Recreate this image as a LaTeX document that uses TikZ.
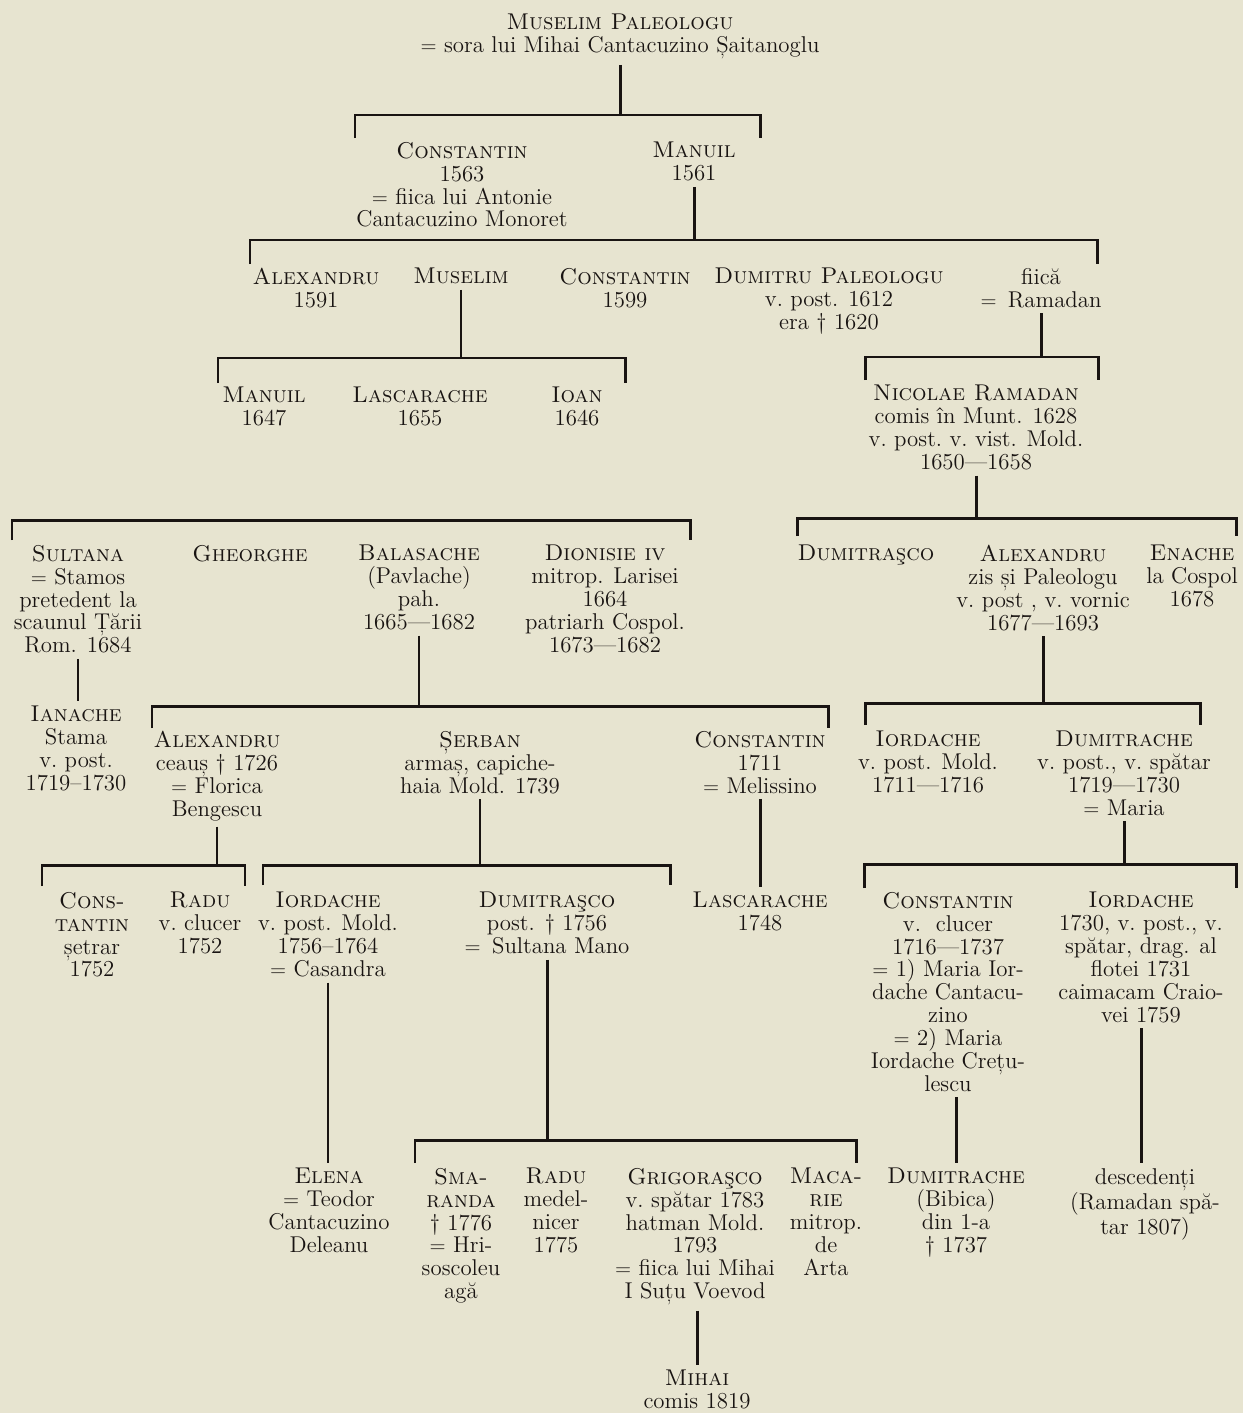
\documentclass[tikz,border=0pt]{standalone}
\usepackage{fontspec}

\definecolor{paper}{RGB}{231,228,208}
\definecolor{ink}{RGB}{25,20,18}

% bracket over a row of children: name, left x, right x, y, tick length
\newcommand{\kinbar}[5]{\coordinate (#1) at (#2,#4);
  \draw[kin] (#2,#4+#5) -- (#1) -- (#3,#4) -- (#3,#4+#5);}

\begin{document}
\begin{tikzpicture}[x=0.02cm, y=-0.02cm,
    kin/.style={draw=ink, line width=1.7pt, line join=miter},
    person/.style={anchor=north, align=center, inner sep=0pt, text=ink,
      font=\fontsize{13}{13}\selectfont},
    down/.style={kin, shorten <=3pt},
    link/.style={kin, shorten <=3pt, shorten >=3pt}]

    \fill[paper] (0,0) rectangle (1243,1413);
    \useasboundingbox (0,0) rectangle (1243,1413);

    % Muselim Paleologu
    \node[person] (muselim) at (620,14) {\textsc{Muselim Paleologu}\\$=$ sora lui Mihai Cantacuzino Șaitanoglu};
    \kinbar{b0}{355}{760}{115}{23}
    \draw[down] (muselim.south) -- (muselim.south |- b0);

    \node[person] (constantin1) at (462,142) {\textsc{Constantin}\\1563\\$=$ fiica lui Antonie\\Cantacuzino Monoret};
    \node[person] (manuil1) at (694,142) {\textsc{Manuil}\\1561};

    % children of Manuil
    \kinbar{b1}{250}{1097}{240}{24}
    \draw[down] (manuil1.south) -- (manuil1.south |- b1);

    \node[person] (alexandru2) at (316,268) {\textsc{Alexandru}\\1591};
    \node[person] (muselim2) at (461,268) {\textsc{Muselim}};
    \node[person] (constantin2) at (625,268) {\textsc{Constantin}\\1599};
    \node[person] (dumitru2) at (829,268) {\textsc{Dumitru Paleologu}\\v.~post. 1612\\era † 1620};
    \node[person] (fiica2) at (1041,268) {fiică\\$=$\enspace Ramadan};

    % children of Muselim
    \kinbar{b2}{218}{625}{358}{25}
    \draw[down] (muselim2.south) -- (muselim2.south |- b2);
    \node[person] (manuil3) at (264,387) {\textsc{Manuil}\\1647};
    \node[person] (lascarache3) at (420,387) {\textsc{Lascarache}\\1655};
    \node[person] (ioan3) at (577,387) {\textsc{Ioan}\\1646};

    % Ramadan line
    \kinbar{b3}{865}{1098}{357}{23}
    \draw[down] (fiica2.south) -- (fiica2.south |- b3);
    \node[person] (nicolae3) at (976,385) {\textsc{Nicolae Ramadan}\\comis în Munt. 1628\\v.~post.\ v.~vist. Mold.\\1650—1658};

    % row without parent line
    \kinbar{b4}{12}{690}{520}{20}
    \node[person] (sultana4) at (78,545) {\textsc{Sultana}\\$=$ Stamos\\pretedent la\\scaunul Țării\\Rom. 1684};
    \node[person] (gheorghe4) at (250,545) {\textsc{Gheorghe}};
    \node[person] (balasache4) at (419,545) {\textsc{Balasache}\\(Pavlache)\\pah.\\1665—1682};
    \node[person] (dionisie4) at (605,545) {\textsc{Dionisie iv}\\mitrop. Larisei\\1664\\patriarh Cospol.\\1673—1682};

    % children of Nicolae Ramadan
    \kinbar{b5}{797}{1236}{518}{18}
    \draw[down] (nicolae3.south) -- (nicolae3.south |- b5);
    \node[person] (dumitrasco4) at (866,545) {\textsc{Dumitraşco}};
    \node[person] (alexandru4) at (1043,545) {\textsc{Alexandru}\\zis și Paleologu\\v.~post , v.~vornic\\1677—1693};
    \node[person] (enache4) at (1192,545) {\textsc{Enache}\\la Cospol\\1678};

    % Sultana -> Ianache
    \node[person] (ianache5) at (76,706) {\textsc{Ianache}\\Stama\\v.~post.\\1719–1730};
    \draw[link] (sultana4.south) -- (sultana4.south |- ianache5.north);

    % children of Balasache
    \kinbar{b6}{152}{828}{706}{22}
    \draw[down] (balasache4.south) -- (balasache4.south |- b6);
    \node[person] (alexandru5) at (217,731) {\textsc{Alexandru}\\ceauș † 1726\\$=$ Florica\\Bengescu};
    \node[person] (serban5) at (480,731) {\textsc{Șerban}\\armaș, capiche-\\haia Mold. 1739};
    \node[person] (constantin5) at (760,731) {\textsc{Constantin}\\1711\\$=$ Melissino};

    % children of Alexandru (Ramadan)
    \kinbar{b7}{865}{1200}{703}{22}
    \draw[down] (alexandru4.south) -- (alexandru4.south |- b7);
    \node[person] (iordache5) at (928,731) {\textsc{Iordache}\\v.~post. Mold.\\1711—1716};
    \node[person] (dumitrache5) at (1124,731) {\textsc{Dumitrache}\\v.~post., v.~spătar\\1719—1730\\$=$ Maria};

    % children of Alexandru
    \kinbar{b8}{42}{245}{865}{21}
    \draw[down] (alexandru5.south) -- (alexandru5.south |- b8);
    \node[person] (constantin6) at (92,892) {\textsc{Cons-}\\\textsc{tantin}\\șetrar\\1752};
    \node[person] (radu6) at (200,892) {\textsc{Radu}\\v.~clucer\\1752};

    % children of Serban
    \kinbar{b9}{263}{670}{865}{20}
    \draw[down] (serban5.south) -- (serban5.south |- b9);
    \node[person] (iordache6) at (328,892) {\textsc{Iordache}\\v.~post. Mold.\\1756–1764\\$=$ Casandra};
    \node[person] (dumitrasco6) at (547,892) {\textsc{Dumitraşco}\\post. † 1756\\$=$\enspace Sultana Mano};

    % Constantin -> Lascarache
    \node[person] (lascarache6) at (760,892) {\textsc{Lascarache}\\1748};
    \draw[link] (constantin5.south) -- (constantin5.south |- lascarache6.north);

    % children of Dumitrache
    \kinbar{b10}{864}{1236}{864}{24}
    \draw[down] (dumitrache5.south) -- (dumitrache5.south |- b10);
    \node[person] (constantin6b) at (948,892) {\textsc{Constantin}\\v.~~clucer\\1716—1737\\$=$ 1) Maria Ior-\\dache Cantacu-\\zino\\$=$ 2) Maria\\Iordache Crețu-\\lescu};
    \node[person] (iordache6b) at (1141,892) {\textsc{Iordache}\\1730, v.~post., v.\\spătar, drag. al\\flotei 1731\\caimacam Craio-\\vei 1759};

    % Iordache -> Elena
    \node[person] (elena7) at (329,1168) {\textsc{Elena}\\$=$ Teodor\\Cantacuzino\\Deleanu};
    \draw[link] (iordache6.south) -- (iordache6.south |- elena7.north);

    % children of Dumitrasco
    \kinbar{b11}{415}{856}{1140}{23}
    \draw[down] (dumitrasco6.south) -- (dumitrasco6.south |- b11);
    \node[person] (smaranda7) at (461,1168) {\textsc{Sma-}\\\textsc{randa}\\† 1776\\$=$ Hri-\\soscoleu\\agă};
    \node[person] (radu7) at (556,1168) {\textsc{Radu}\\medel-\\nicer\\1775};
    \node[person] (grigorasco7) at (695,1168) {\textsc{Grigoraşco}\\v.~spătar 1783\\hatman Mold.\\1793\\$=$ fiica lui Mihai\\I Suțu Voevod};
    \node[person] (macarie7) at (826,1168) {\textsc{Maca-}\\\textsc{rie}\\mitrop.\\de\\Arta};

    % Constantin -> Dumitrache, Iordache -> descendenti
    \node[person] (dumitrache7) at (956,1168) {\textsc{Dumitrache}\\(Bibica)\\din 1-a\\† 1737};
    \node[person] (descendenti7) at (1145,1168) {descedenți\\(Ramadan spă-\\tar 1807)};
    \draw[link] (dumitrache7.north |- constantin6b.south) -- (dumitrache7.north);
    \draw[link] (iordache6b.south) -- (iordache6b.south |- descendenti7.north);

    % Grigorasco -> Mihai
    \node[person] (mihai8) at (697,1370) {\textsc{Mihai}\\comis 1819};
    \draw[link] (mihai8.north |- grigorasco7.south) -- (mihai8.north);

\end{tikzpicture}
\end{document}
